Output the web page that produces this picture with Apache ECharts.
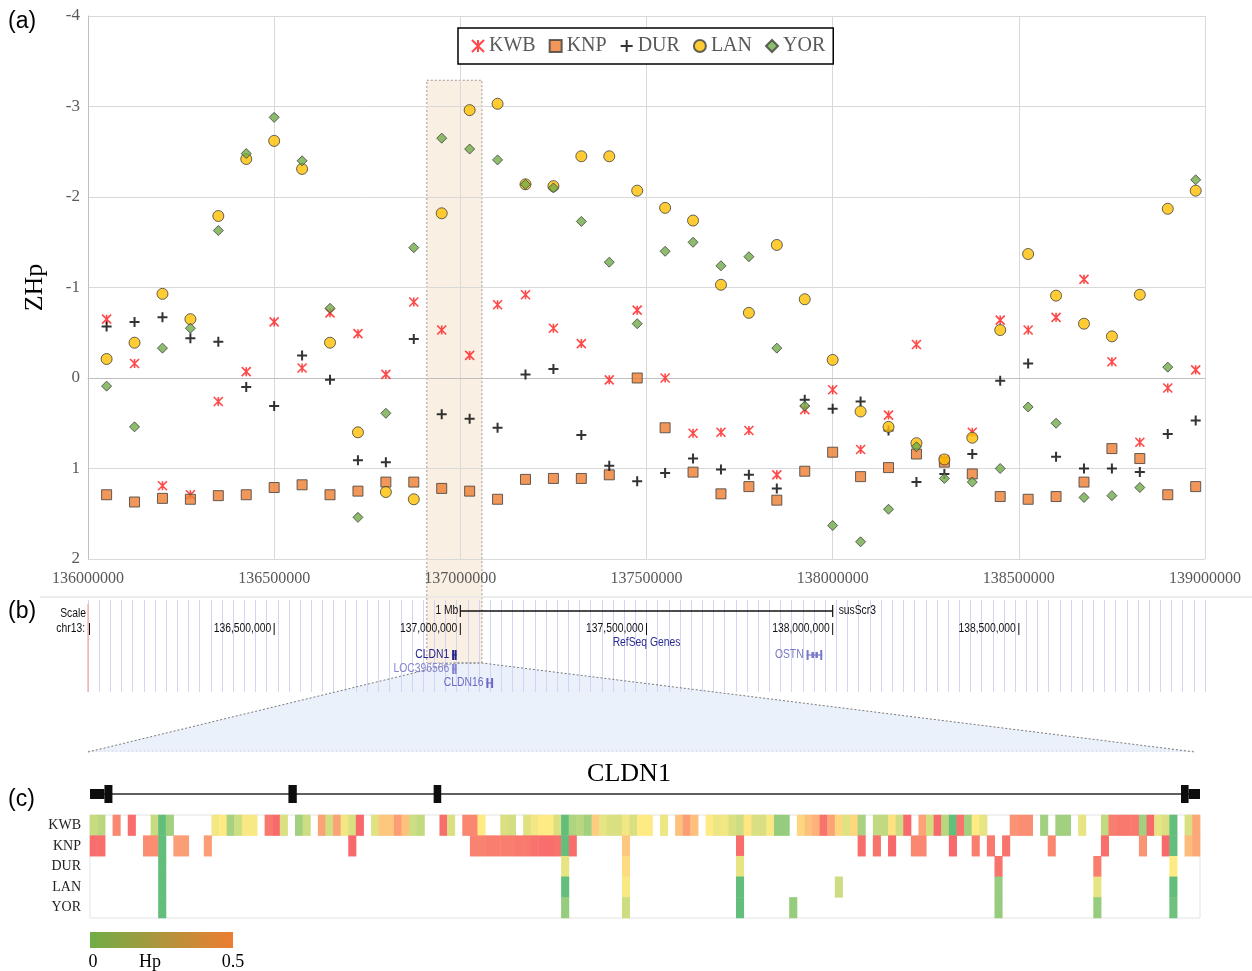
<!DOCTYPE html>
<html>
<head>
<meta charset="utf-8">
<title>ZHp scan around CLDN1 on chr13</title>
<script src="https://cdn.jsdelivr.net/npm/echarts@6.0.0/dist/echarts.min.js"></script>
<style>
  html, body { margin: 0; padding: 0; background: #ffffff; }
  #main { width: 1252px; height: 971px; }
</style>
</head>
<body>
<div id="main"></div>
<script>
// ---------- (a) ZHp per sliding window on chr13 ----------
const populations = ['KWB', 'KNP', 'DUR', 'LAN', 'YOR'];
const windowPositions = [
  136050000, 136125000, 136200000, 136275000, 136350000, 136425000, 136500000, 136575000,
  136650000, 136725000, 136800000, 136875000, 136950000, 137025000, 137100000, 137175000,
  137250000, 137325000, 137400000, 137475000, 137550000, 137625000, 137700000, 137775000,
  137850000, 137925000, 138000000, 138075000, 138150000, 138225000, 138300000, 138375000,
  138450000, 138525000, 138600000, 138675000, 138750000, 138825000, 138900000, 138975000
];
const zhpKWB = [-0.65, -0.16, 1.19, 1.29, 0.26, -0.07, -0.62, -0.11, -0.72, -0.49,
  -0.04, -0.84, -0.53, -0.25, -0.81, -0.92, -0.55, -0.38, 0.02, -0.75,
  0.00, 0.61, 0.60, 0.58, 1.07, 0.35, 0.13, 0.79, 0.41, -0.37,
  0.90, 0.60, -0.64, -0.53, -0.67, -1.09, -0.18, 0.71, 0.11, -0.09];
const zhpKNP = [1.29, 1.37, 1.33, 1.34, 1.30, 1.29, 1.21, 1.18, 1.29, 1.25,
  1.15, 1.15, 1.22, 1.25, 1.34, 1.12, 1.11, 1.11, 1.07, 0.00,
  0.55, 1.04, 1.28, 1.20, 1.35, 1.03, 0.82, 1.09, 0.99, 0.84,
  0.93, 1.06, 1.31, 1.34, 1.31, 1.15, 0.78, 0.89, 1.29, 1.20];
const zhpDUR = [-0.57, -0.62, -0.67, -0.44, -0.40, 0.10, 0.31, -0.25, 0.02, 0.91,
  0.93, -0.43, 0.40, 0.45, 0.55, -0.04, -0.10, 0.63, 0.97, 1.14,
  1.05, 0.89, 1.01, 1.07, 1.22, 0.24, 0.34, 0.26, 0.58, 1.15,
  1.06, 0.84, 0.03, -0.16, 0.87, 1.00, 1.00, 1.04, 0.62, 0.47];
const zhpLAN = [-0.21, -0.39, -0.93, -0.65, -1.79, -2.42, -2.62, -2.31, -0.39, 0.60,
  1.26, 1.34, -1.82, -2.96, -3.03, -2.14, -2.12, -2.45, -2.45, -2.07,
  -1.88, -1.74, -1.03, -0.72, -1.47, -0.87, -0.20, 0.37, 0.54, 0.72,
  0.90, 0.66, -0.53, -1.37, -0.91, -0.60, -0.46, -0.92, -1.87, -2.07];
const zhpYOR = [0.09, 0.54, -0.33, -0.55, -1.63, -2.48, -2.88, -2.40, -0.77, 1.54,
  0.39, -1.44, -2.65, -2.53, -2.41, -2.14, -2.10, -1.73, -1.28, -0.60,
  -1.40, -1.50, -1.24, -1.34, -0.33, 0.31, 1.63, 1.81, 1.45, 0.76,
  1.11, 1.15, 1.00, 0.32, 0.50, 1.32, 1.30, 1.21, -0.12, -2.19];
const chromRange = [136000000, 139000000];
const zhpRange = [-4, 2];

// ---------- (b) genome browser view ----------
const browserTicks = [136500000, 137000000, 137500000, 138000000, 138500000];
const scaleBarSpan = [137000000, 138000000];
// name, start, end, row, colour
const refSeqGenes = [
  ['CLDN1', 136978000, 136990000, 0, '#22228e'],
  ['LOC396566', 136978000, 136990000, 1, '#8585cf'],
  ['CLDN16', 137070000, 137088000, 2, '#6a6ac6'],
  ['OSTN', 137930000, 137972000, 0, '#7878c8']
];
const highlightSpan = [136910000, 137058000];
const highlightTopZHp = -3.29;
const zoomedSpan = [136985000, 137058000];

// ---------- (c) Hp of SNPs within CLDN1 ----------
const hpKWB = [0.16, 0.14, null, 0.44, null, 0.49, null, null, 0.16, 0.00,
  0.10, null, null, null, null, null, 0.23, 0.25, 0.11, 0.17,
  0.24, 0.24, null, 0.47, 0.50, 0.19, null, 0.10, 0.17, null,
  0.39, 0.18, 0.39, 0.23, 0.19, 0.50, null, 0.20, 0.32, 0.32,
  0.40, 0.33, 0.17, 0.15, null, null, 0.49, 0.19, null, 0.44,
  0.44, 0.25, null, null, 0.19, 0.18, null, 0.20, 0.23, 0.25,
  0.25, 0.19, 0.00, 0.12, 0.14, 0.10, 0.31, 0.21, 0.19, 0.19,
  0.23, 0.19, 0.25, 0.25, null, 0.22, null, 0.33, 0.40, 0.33,
  null, 0.25, 0.22, 0.23, 0.19, 0.17, 0.26, 0.19, 0.19, 0.24,
  0.08, 0.08, null, 0.29, 0.33, 0.36, 0.48, 0.39, 0.29, 0.20,
  0.29, 0.11, null, 0.15, 0.15, 0.27, 0.17, 0.50, null, 0.39,
  0.18, 0.50, 0.14, 0.00, 0.48, 0.10, 0.25, 0.21, null, null,
  null, 0.42, 0.43, 0.43, null, 0.10, null, 0.10, 0.10, null,
  0.21, null, null, 0.15, 0.46, 0.47, 0.47, 0.47, 0.10, 0.50,
  0.21, 0.19, 0.00, null, 0.19, 0.38];
// [SNP column, Hp]
const hpKNP = [[0, 0.49], [1, 0.49], [7, 0.43], [8, 0.43], [9, 0.00], [11, 0.40], [12, 0.40],
  [15, 0.40], [34, 0.50], [50, 0.45], [51, 0.45], [52, 0.46], [53, 0.46], [54, 0.46],
  [55, 0.46], [56, 0.47], [57, 0.47], [58, 0.48], [59, 0.49], [60, 0.49], [61, 0.48],
  [62, 0.00], [63, 0.49], [70, 0.32], [85, 0.49], [101, 0.49], [103, 0.48], [105, 0.50],
  [108, 0.44], [109, 0.44], [113, 0.50], [116, 0.46], [118, 0.47], [120, 0.48],
  [126, 0.44], [133, 0.49], [138, 0.42], [141, 0.50], [142, 0.00], [144, 0.34], [145, 0.38]];
const hpDUR = [[9, 0.00], [62, 0.21], [70, 0.28], [85, 0.21], [119, 0.48], [132, 0.46], [142, 0.25]];
const hpLAN = [[9, 0.00], [62, 0.00], [70, 0.24], [85, 0.00], [98, 0.17], [119, 0.08], [132, 0.21], [142, 0.00]];
const hpYOR = [[9, 0.00], [62, 0.08], [70, 0.17], [85, 0.00], [92, 0.08], [119, 0.08], [132, 0.08], [142, 0.02]];
const hpRange = [0, 0.5];
// CLDN1 gene model in SNP-column units: start, end, kind (1 = UTR, 2 = coding exon)
const cldn1Exons = [[0, 1.9, 1], [1.9, 2.95, 2], [26.1, 27.2, 2], [45.2, 46.2, 2], [143.5, 144.5, 2], [144.5, 146, 1]];

// ---------- styling ----------
const SERIF = "'Liberation Serif', 'Times New Roman', serif";
const SANS = "'Liberation Sans', Arial, sans-serif";
const ASTERISK = 'path://M0,0L10,10M10,0L0,10M5,0L5,10';
const PLUS = 'path://M5,0L5,10M0,5L10,5';

const markerStyle = {
  KWB: { symbol: ASTERISK, symbolSize: 9, itemStyle: { color: 'rgba(0,0,0,0)', borderColor: '#ff1a1a', borderWidth: 1.6 } },
  KNP: { symbol: 'rect', symbolSize: 10, itemStyle: { color: '#ED7D31', borderColor: '#3d3d3d', borderWidth: 1 } },
  DUR: { symbol: PLUS, symbolSize: 10, itemStyle: { color: 'rgba(0,0,0,0)', borderColor: '#000000', borderWidth: 2 } },
  LAN: { symbol: 'circle', symbolSize: 11, itemStyle: { color: '#FFC000', borderColor: '#3d3d3d', borderWidth: 1 } },
  YOR: { symbol: 'diamond', symbolSize: 10, itemStyle: { color: '#70AD47', borderColor: '#3d3d3d', borderWidth: 1 } }
};
const zhpByPop = { KWB: zhpKWB, KNP: zhpKNP, DUR: zhpDUR, LAN: zhpLAN, YOR: zhpYOR };

const scatterSeries = populations.map(p => Object.assign({
  name: p,
  type: 'scatter',
  xAxisIndex: 0,
  yAxisIndex: 0,
  data: windowPositions.map((x, i) => [x, zhpByPop[p][i]]),
  emphasis: { disabled: true }
}, markerStyle[p]));

// heatmap cells
const nCols = hpKWB.length;
const hpByPop = {
  KWB: hpKWB.map((v, i) => [i, v]).filter(d => d[1] !== null),
  KNP: hpKNP, DUR: hpDUR, LAN: hpLAN, YOR: hpYOR
};
const heatData = [];
populations.forEach((p, r) => hpByPop[p].forEach(([c, v]) => heatData.push([c, r, v])));
const colNames = hpKWB.map((_, i) => String(i));

const geneModel = [[0, nCols, 0]].concat(cldn1Exons);

const chart = echarts.init(document.getElementById('main'), null, { renderer: 'canvas' });

const option = {
  animation: false,
  backgroundColor: '#ffffff',
  grid: [
    { left: 88, right: 47, top: 16, bottom: 412 },
    { left: 88, right: 47, top: 600, height: 92 },
    { left: 90, right: 52, top: 815, height: 103, show: true, borderColor: '#e3e3e3', borderWidth: 1 },
    { left: 90, right: 52, top: 783, height: 22 }
  ],
  xAxis: [
    {
      gridIndex: 0, type: 'value', min: chromRange[0], max: chromRange[1], interval: 500000,
      axisLine: { show: true, lineStyle: { color: '#bfbfbf' } },
      axisTick: { show: false },
      splitLine: { show: true, lineStyle: { color: '#d9d9d9' } },
      axisLabel: { formatter: v => String(v), fontFamily: SERIF, fontSize: 16, color: '#595959', margin: 12 }
    },
    {
      gridIndex: 1, type: 'value', min: chromRange[0], max: chromRange[1], interval: 30000,
      axisLine: { show: false }, axisTick: { show: false }, axisLabel: { show: false },
      splitLine: { show: true, lineStyle: { color: '#d3d3f4', width: 1 } }
    },
    {
      gridIndex: 2, type: 'category', data: colNames,
      axisLine: { show: false }, axisTick: { show: false }, axisLabel: { show: false }, splitLine: { show: false }
    },
    { gridIndex: 3, type: 'value', min: 0, max: nCols, show: false }
  ],
  yAxis: [
    {
      gridIndex: 0, type: 'value', min: zhpRange[0], max: zhpRange[1], interval: 1, inverse: true,
      name: 'ZHp', nameLocation: 'middle', nameGap: 40, nameRotate: 90,
      nameTextStyle: { fontFamily: SERIF, fontSize: 26, color: '#000000' },
      axisLine: { show: true, lineStyle: { color: '#bfbfbf' } },
      axisTick: { show: false },
      splitLine: { show: true, lineStyle: { color: '#d9d9d9' } },
      axisLabel: { fontFamily: SERIF, fontSize: 17, color: '#595959', margin: 8 }
    },
    { gridIndex: 1, type: 'value', min: 0, max: 1, show: false },
    {
      gridIndex: 2, type: 'category', data: populations, inverse: true,
      axisLine: { show: false }, axisTick: { show: false }, splitLine: { show: false },
      axisLabel: { fontFamily: SERIF, fontSize: 14, color: '#222222', margin: 9 }
    },
    { gridIndex: 3, type: 'value', min: 0, max: 1, show: false }
  ],
  legend: {
    data: populations,
    left: 458, top: 28,
    padding: [8, 8, 8, 13],
    itemWidth: 12, itemHeight: 12, itemGap: 13,
    borderColor: '#000000', borderWidth: 1.5, backgroundColor: '#ffffff',
    textStyle: { fontFamily: SERIF, fontSize: 20, color: '#595959' },
    selectedMode: false
  },
  visualMap: {
    type: 'continuous', show: false, min: hpRange[0], max: hpRange[1], seriesIndex: 6,
    inRange: { color: ['#63BE7B', '#FFEB84', '#F8696B'] }
  },
  series: scatterSeries.concat([
    {
      name: 'CLDN1 model', type: 'custom', xAxisIndex: 3, yAxisIndex: 3, silent: true,
      data: geneModel,
      renderItem: (params, api) => {
        const s = api.value(0), e = api.value(1), kind = api.value(2);
        const p0 = api.coord([s, 0.5]), p1 = api.coord([e, 0.5]);
        if (kind === 0) {
          return { type: 'line', shape: { x1: p0[0], y1: p0[1], x2: p1[0], y2: p1[1] },
            style: { stroke: '#2a2a2a', lineWidth: 1.6 } };
        }
        const h = kind === 1 ? 10 : 18;
        return { type: 'rect', shape: { x: p0[0], y: p0[1] - h / 2, width: p1[0] - p0[0], height: h },
          style: { fill: '#0d0d0d' } };
      }
    },
    {
      name: 'Hp', type: 'heatmap', xAxisIndex: 2, yAxisIndex: 2, data: heatData,
      emphasis: { disabled: true }, itemStyle: { borderWidth: 0 }
    }
  ])
};
chart.setOption(option);

// ---------- decorations placed through the axes ----------
const bx = v => chart.convertToPixel({ xAxisIndex: 1 }, v);
const ay = v => chart.convertToPixel({ yAxisIndex: 0 }, v);
const L = {
  browserTop: 600, browserBottom: 692, scaleY: 611, posY: 629, trackTitleY: 643,
  geneRowY: 655, geneRowStep: 14, zoomTopY: 663, zoomBottomY: 752,
  heatLeft: 90, heatRight: 1200, barTop: 932, barH: 16, barW: 143, barLabelY: 962
};
const txt = (text, x, y, font, fill, align, extra) => Object.assign({
  type: 'text', silent: true,
  style: { text, x, y, font, fill, align: align || 'left', verticalAlign: 'middle' }
}, extra || {});
// browser captions use a condensed sans face
const ucsc = (text, x, y, fill, align, extra) => txt(text, x, y, '12px ' + SANS, fill, align,
  Object.assign({ scaleX: 0.86, originX: x, originY: y }, extra || {}));
const seg = (x1, y1, x2, y2, stroke, lw, dash, z) => ({
  type: 'line', silent: true, z: z || 1,
  shape: { x1, y1, x2, y2 },
  style: { stroke, lineWidth: lw || 1, lineDash: dash || null }
});

const G = [];
const chromLeft = bx(chromRange[0]);

// highlighted window across (a) and (b)
const hx0 = bx(highlightSpan[0]), hx1 = bx(highlightSpan[1]);
const hy0 = ay(highlightTopZHp);
G.push({
  type: 'rect', silent: true, z: -10,
  shape: { x: hx0, y: hy0, width: hx1 - hx0, height: L.zoomTopY - hy0 },
  style: { fill: 'rgba(238,196,156,0.28)', stroke: '#9a9a9a', lineWidth: 1, lineDash: [2, 2] }
});

// zoom wedge from the browser down to the gene model
const zx0 = bx(zoomedSpan[0]), zx1 = bx(zoomedSpan[1]);
const wedgeL = chromLeft, wedgeR = L.heatRight - 5;
G.push({
  type: 'polygon', silent: true, z: -11,
  shape: { points: [[zx0, L.zoomTopY], [zx1, L.zoomTopY], [wedgeR, L.zoomBottomY], [wedgeL, L.zoomBottomY]] },
  style: { fill: '#eaf1fb' }
});
G.push({
  type: 'polyline', silent: true, z: 1,
  shape: { points: [[wedgeL, L.zoomBottomY], [zx0, L.zoomTopY], [zx1, L.zoomTopY], [wedgeR, L.zoomBottomY]] },
  style: { stroke: '#7a7a7a', lineWidth: 1, lineDash: [2, 2], fill: null }
});
G.push(seg(wedgeL, L.zoomBottomY - 1, wedgeR, L.zoomBottomY - 1, '#d9cfd6', 1, [1, 3], -5));

// browser frame
G.push(seg(40, L.browserTop - 3, 1252, L.browserTop - 3, '#e6e6e6', 1.5));
G.push(seg(chromLeft, L.browserTop + 4, chromLeft, L.browserBottom, '#f3a3a3', 1.2, null, 2));
G.push(ucsc('Scale', chromLeft - 2, L.scaleY + 3, '#111', 'right'));
G.push(ucsc('chr13:', chromLeft - 3, L.posY, '#111', 'right'));
G.push(seg(chromLeft + 1.5, L.posY - 6, chromLeft + 1.5, L.posY + 6, '#111', 1));

// scale bar
const sb0 = bx(scaleBarSpan[0]), sb1 = bx(scaleBarSpan[1]);
G.push(seg(sb0, L.scaleY, sb1, L.scaleY, '#111', 1.3));
G.push(seg(sb0, L.scaleY - 6, sb0, L.scaleY + 6, '#111', 1.2));
G.push(seg(sb1, L.scaleY - 6, sb1, L.scaleY + 6, '#111', 1.2));
G.push(ucsc('1 Mb', sb0 - 2, L.scaleY, '#111', 'right'));
G.push(ucsc('susScr3', sb1 + 6, L.scaleY, '#111', 'left'));

// position ruler
browserTicks.forEach(t => {
  const x = bx(t);
  G.push(seg(x, L.posY - 6, x, L.posY + 6, '#111', 1));
  G.push(ucsc(t.toLocaleString('en-US'), x - 3, L.posY, '#111', 'right'));
});

// RefSeq track
G.push(ucsc('RefSeq Genes', (bx(chromRange[0]) + bx(chromRange[1])) / 2, L.trackTitleY, '#2b2b95', 'center'));
refSeqGenes.forEach(([name, s, e, row, color]) => {
  const x0 = bx(s), x1 = Math.max(bx(e), x0 + 4);
  const y = L.geneRowY + row * L.geneRowStep;
  G.push(seg(x0, y, x1, y, color, 1.2, null, 3));
  G.push({ type: 'rect', silent: true, z: 3, shape: { x: x0, y: y - 5, width: 2, height: 10 }, style: { fill: color } });
  G.push({ type: 'rect', silent: true, z: 3, shape: { x: x1 - 2, y: y - 5, width: 2, height: 10 }, style: { fill: color } });
  if (x1 - x0 > 10) {
    const xm = (x0 + x1) / 2;
    G.push({ type: 'rect', silent: true, z: 3, shape: { x: xm - 3, y: y - 3, width: 2.5, height: 6 }, style: { fill: color } });
    G.push({ type: 'rect', silent: true, z: 3, shape: { x: xm + 1, y: y - 3, width: 2.5, height: 6 }, style: { fill: color } });
  }
  G.push(ucsc(name, x0 - 3, y, color, 'right', { z: 3 }));
});

// panel letters
G.push(txt('(a)', 8, 22, '23px ' + SANS, '#000', 'left'));
G.push(txt('(b)', 8, 612, '23px ' + SANS, '#000', 'left'));
G.push(txt('(c)', 8, 800, '23px ' + SANS, '#000', 'left'));

// gene title and Hp colour key
G.push(txt('CLDN1', 629, 774, '26px ' + SERIF, '#000', 'center'));
G.push({
  type: 'rect', silent: true,
  shape: { x: L.heatLeft, y: L.barTop, width: L.barW, height: L.barH },
  style: {
    fill: new echarts.graphic.LinearGradient(0, 0, 1, 0, [
      { offset: 0, color: '#70AD47' }, { offset: 1, color: '#ED7D31' }
    ])
  }
});
G.push(txt(String(hpRange[0]), L.heatLeft + 3, L.barLabelY, '18px ' + SERIF, '#000', 'center'));
G.push(txt('Hp', L.heatLeft + 60, L.barLabelY, '18px ' + SERIF, '#000', 'center'));
G.push(txt(String(hpRange[1]), L.heatLeft + L.barW, L.barLabelY, '18px ' + SERIF, '#000', 'center'));

chart.setOption({ graphic: { elements: G } });
</script>
</body>
</html>
